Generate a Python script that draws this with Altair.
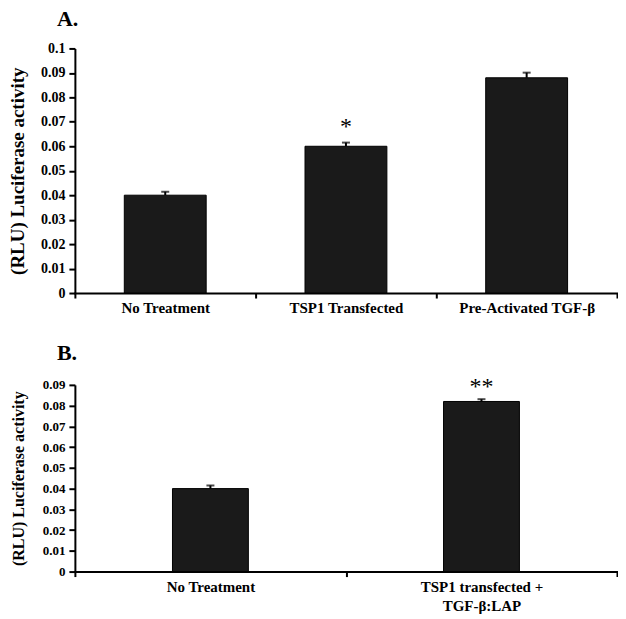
import altair as alt
import pandas as pd

FONT = "Liberation Serif"

# Panel A data
a_categories = ["No Treatment", "TSP1 Transfected", "Pre-Activated TGF-β"]
a_values = [0.0400, 0.0600, 0.0880]
a_errors = [0.0014, 0.0015, 0.0021]
a_marks = ["", "*", ""]
a_ticks = [0, 0.01, 0.02, 0.03, 0.04, 0.05, 0.06, 0.07, 0.08, 0.09, 0.1]

# Panel B data
b_categories = ["No Treatment", "TSP1 transfected +|TGF-β:LAP"]
b_values = [0.0400, 0.0820]
b_errors = [0.0015, 0.0011]
b_marks = ["", "**"]
b_ticks = [0, 0.01, 0.02, 0.03, 0.04, 0.05, 0.06, 0.07, 0.08, 0.09]

y_title = "(RLU) Luciferase activity"


def panel(cats, vals, errs, marks, ticks, label, width, height, bar_size,
          title_size, tick_label_size, title_pad, mark_dy):
    df = pd.DataFrame({
        "cat": cats,
        "val": vals,
        "top": [v + e for v, e in zip(vals, errs)],
        "sig": marks,
    })
    x = alt.X(
        "cat:N", sort=cats, title=None,
        scale=alt.Scale(paddingInner=0, paddingOuter=0),
        axis=alt.Axis(labelAngle=0, tickBand="extent", labelExpr="split(datum.label, '|')",
                      labelFontSize=15, labelPadding=3, tickSize=5, labelLineHeight=19,
                      labelOverlap=False),
    )
    yscale = alt.Scale(domain=[ticks[0], ticks[-1]], nice=False)
    yaxis = alt.Axis(values=ticks, format="~g", labelFontSize=tick_label_size, tickSize=6,
                     labelPadding=4, labelOverlap=False, titleFontSize=title_size,
                     titlePadding=title_pad)
    y_val = alt.Y("val:Q", scale=yscale, title=y_title, axis=yaxis)
    y_top = alt.Y("top:Q", scale=yscale, title=y_title, axis=yaxis)
    base = alt.Chart(df)
    bars = base.mark_bar(size=bar_size, color="#1a1a1a", stroke="black", strokeWidth=1).encode(
        x=x, y=y_val)
    rule = base.mark_rule(color="black", strokeWidth=2).encode(x=x, y=y_val, y2="top:Q")
    cap = base.mark_tick(color="black", thickness=2, size=8).encode(x=x, y=y_top)
    sig = base.mark_text(font=FONT, fontSize=24, baseline="alphabetic", dy=mark_dy,
                         color="black", fill="black").encode(x=x, y=y_top, text="sig:N")
    return alt.layer(bars, rule, cap, sig).properties(
        width=width, height=height,
        title=alt.TitleParams(label, anchor="start", frame="group", dx=-18, fontSize=22,
                              font=FONT, fontWeight="bold", color="black", offset=10),
    )


chart_a = panel(a_categories, a_values, a_errors, a_marks, a_ticks, "A.", 543, 245, 82,
                19, 14, 13, -9)
chart_b = panel(b_categories, b_values, b_errors, b_marks, b_ticks, "B.", 543, 187, 76,
                16, 13, 16, -5)

chart = alt.vconcat(chart_a, chart_b, spacing=26).properties(padding=0).configure_view(
    stroke=None
).configure_axis(
    grid=False, domainColor="black", domainWidth=2, tickColor="black", tickWidth=2,
    labelFont=FONT, labelFontWeight="bold", labelColor="black",
    titleFont=FONT, titleFontWeight="bold", titleColor="black",
).configure_axisX(domainCap="square")

chart.save("out.html", embed_options={"renderer": "svg", "actions": False})
